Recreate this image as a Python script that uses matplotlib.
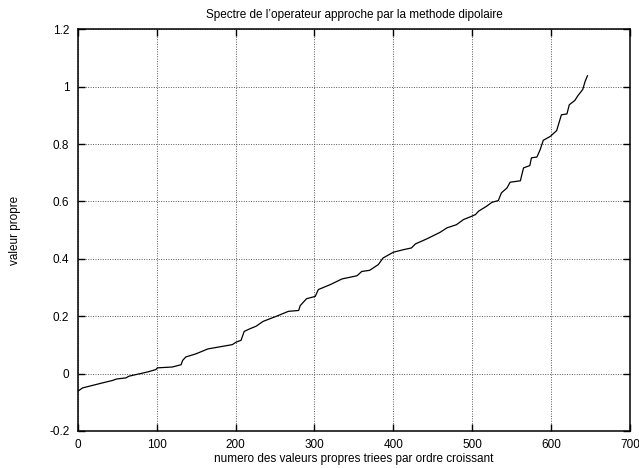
import matplotlib
matplotlib.use("Agg")
import matplotlib.pyplot as plt

# Values (index, eigenvalue)
idx = [0, 6, 19, 32, 44, 49, 61, 65, 89, 99, 101, 120, 131, 133, 137, 150, 165,
       196, 201, 207, 211, 218, 226, 235, 252, 267, 280, 282, 290, 301, 305, 320,
       335, 354, 360, 370, 381, 387, 400, 413, 423, 428, 442, 459, 468, 480, 489,
       499, 504, 508, 518, 525, 533, 537, 544, 548, 561, 565, 573, 575, 582, 586,
       590, 599, 607, 613, 620, 623, 630, 634, 640, 643, 646]
vals = [-0.062, -0.050, -0.041, -0.032, -0.024, -0.019, -0.015, -0.009, 0.006,
        0.014, 0.020, 0.023, 0.031, 0.046, 0.058, 0.069, 0.086, 0.101, 0.110,
        0.116, 0.147, 0.156, 0.165, 0.182, 0.200, 0.217, 0.220, 0.237, 0.261,
        0.269, 0.293, 0.310, 0.330, 0.341, 0.356, 0.360, 0.380, 0.403, 0.423,
        0.432, 0.438, 0.452, 0.469, 0.492, 0.508, 0.519, 0.537, 0.548, 0.554,
        0.566, 0.583, 0.597, 0.603, 0.630, 0.647, 0.667, 0.672, 0.717, 0.725,
        0.752, 0.755, 0.780, 0.813, 0.827, 0.847, 0.902, 0.905, 0.937, 0.952,
        0.969, 0.990, 1.018, 1.038]

xticks = [0, 100, 200, 300, 400, 500, 600, 700]
yticks = [-0.2, 0, 0.2, 0.4, 0.6, 0.8, 1, 1.2]
yticklabels = ["-0.2", "0", "0.2", "0.4", "0.6", "0.8", "1", "1.2"]

plt.rcParams['font.family'] = ['Liberation Sans', 'DejaVu Sans']

fig = plt.figure(figsize=(6.39, 4.68), dpi=100)
ax = fig.add_axes([0.1216, 0.0791, 0.8644, 0.8583])

ax.plot(idx, vals, color='black', linewidth=0.9)

ax.set_xlim(0, 700)
ax.set_ylim(-0.2, 1.2)
ax.set_xticks(xticks)
ax.set_yticks(yticks)
ax.set_yticklabels(yticklabels)
ax.tick_params(direction='in', length=5, width=1, top=True, right=True,
               labelsize=8.5, pad=6, colors='black')
ax.grid(True, color='0.35', linestyle=(0, (1, 1.5)), linewidth=0.7)
for s in ax.spines.values():
    s.set_linewidth(1.1)
    s.set_color('black')

ax.set_title("Spectre de l\u2019operateur approche par la methode dipolaire",
             fontsize=8.5, pad=8)
ax.set_xlabel("numero des valeurs propres triees par ordre croissant",
              fontsize=8.5, labelpad=1)
ax.set_ylabel("valeur propre", fontsize=8.5, labelpad=20)

fig.savefig("out.png", dpi=100)
